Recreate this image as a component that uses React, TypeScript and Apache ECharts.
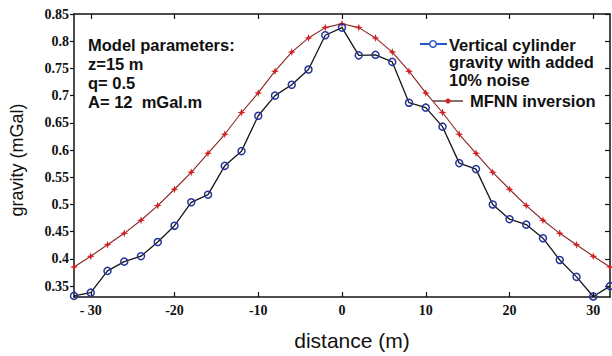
import React, { useEffect, useRef } from "react";
import * as echarts from "echarts";

const distance = [-32, -30, -28, -26, -24, -22, -20, -18, -16, -14, -12, -10, -8, -6, -4, -2, 0, 2, 4, 6, 8, 10, 12, 14, 16, 18, 20, 22, 24, 26, 28, 30, 32];
const noisyGravity = [0.332, 0.338, 0.378, 0.395, 0.405, 0.431, 0.461, 0.504, 0.518, 0.571, 0.598, 0.663, 0.700, 0.720, 0.748, 0.811, 0.825, 0.774, 0.775, 0.762, 0.687, 0.678, 0.643, 0.576, 0.565, 0.500, 0.473, 0.463, 0.438, 0.398, 0.367, 0.331, 0.350];
const mfnnInversion = [0.385, 0.405, 0.426, 0.447, 0.471, 0.498, 0.528, 0.559, 0.594, 0.629, 0.669, 0.705, 0.745, 0.780, 0.806, 0.825, 0.832, 0.825, 0.806, 0.780, 0.745, 0.705, 0.669, 0.629, 0.594, 0.559, 0.528, 0.498, 0.471, 0.447, 0.426, 0.405, 0.385];
const xTicks = [-30, -20, -10, 0, 10, 20, 30];
const yTicks = [0.35, 0.4, 0.45, 0.5, 0.55, 0.6, 0.65, 0.7, 0.75, 0.8, 0.85];
const paramLines = ["Model parameters:", "z=15 m", "q= 0.5", "A= 12  mGal.m"];
const legendLines = ["Vertical cylinder", "gravity with added", "10% noise"];
const legendName2 = "MFNN inversion";

const STAR = "path://M0,-10 L2.5,-2.5 L10,0 L2.5,2.5 L0,10 L-2.5,2.5 L-10,0 L-2.5,-2.5 Z";

export default function App() {
  const ref = useRef<HTMLDivElement>(null);
  useEffect(() => {
    if (!ref.current) return;
    const chart = echarts.init(ref.current, null, { renderer: "svg" });
    const serif = "'Liberation Serif', 'Times New Roman', serif";
    const sans = "'Liberation Sans', Arial, sans-serif";
    const tickLabel = { fontFamily: serif, fontWeight: "bold" as const, fontSize: 14, color: "#111" };
    const graphics: any[] = [];
    paramLines.forEach((t, i) => {
      graphics.push({
        type: "text", left: 88, top: 36 + i * 19,
        style: { text: t, font: `bold 16.5px ${sans}`, fill: "#111" },
      });
    });
    legendLines.forEach((t, i) => {
      graphics.push({
        type: "text", left: 449, top: 36 + i * 17.5,
        style: { text: t, font: `bold 16.5px ${sans}`, fill: "#111" },
      });
    });
    graphics.push({
      type: "text", left: 470, top: 92,
      style: { text: legendName2, font: `bold 16.5px ${sans}`, fill: "#111" },
    });
    graphics.push({ type: "line", shape: { x1: 420, y1: 44, x2: 447, y2: 44 }, style: { stroke: "#2a55c8", lineWidth: 2 } });
    graphics.push({ type: "circle", shape: { cx: 433, cy: 44, r: 3.3 }, style: { stroke: "#2a55c8", lineWidth: 1.5, fill: "#fff" } });
    graphics.push({ type: "line", shape: { x1: 433, y1: 101, x2: 463, y2: 101 }, style: { stroke: "#3a1010", lineWidth: 1.2 } });
    graphics.push({ type: "circle", shape: { cx: 448, cy: 101, r: 2.5 }, style: { fill: "#d42020" } });

    chart.setOption({
      animation: false,
      backgroundColor: "#fff",
      grid: { left: 67, right: 2, top: 14, bottom: 43, show: false },
      xAxis: [
        {
          type: "value", min: -32, max: 32, position: "bottom",
          name: "distance (m)", nameLocation: "middle", nameGap: 33,
          nameTextStyle: { fontFamily: sans, fontSize: 21, color: "#111", padding: [0, 0, 0, 20] },
          axisLine: { show: true, onZero: false, lineStyle: { color: "#111", width: 1.5 } },
          axisTick: { show: true, inside: true, length: 5, customValues: xTicks, lineStyle: { color: "#111", width: 1.2 } },
          axisLabel: { ...tickLabel, margin: 6, customValues: xTicks, formatter: (v: number) => (v === -30 ? "- 30" : String(v)) },
          splitLine: { show: false },
        },
        {
          type: "value", min: -32, max: 32, position: "top",
          axisLine: { show: true, onZero: false, lineStyle: { color: "#111", width: 1.5 } },
          axisTick: { show: true, inside: true, length: 5, customValues: xTicks, lineStyle: { color: "#111", width: 1.2 } },
          axisLabel: { show: false },
          splitLine: { show: false },
        },
      ],
      yAxis: [
        {
          type: "value", min: 0.33, max: 0.85, position: "left",
          name: "gravity (mGal)", nameLocation: "middle", nameGap: 48,
          nameTextStyle: { fontFamily: sans, fontSize: 18, color: "#111", padding: [0, 9, 0, 0] },
          axisLine: { show: true, onZero: false, lineStyle: { color: "#111", width: 1.5 } },
          axisTick: { show: true, inside: false, length: 4, customValues: yTicks, lineStyle: { color: "#111", width: 1.2 } },
          axisLabel: { ...tickLabel, margin: 5, customValues: yTicks, formatter: (v: number) => String(Math.round(v * 100) / 100) },
          splitLine: { show: false },
        },
        {
          type: "value", min: 0.33, max: 0.85, position: "right",
          axisLine: { show: true, onZero: false, lineStyle: { color: "#111", width: 1.5 } },
          axisTick: { show: true, inside: true, length: 5, customValues: yTicks, lineStyle: { color: "#111", width: 1.2 } },
          axisLabel: { show: false },
          splitLine: { show: false },
        },
      ],
      series: [
        {
          name: "MFNN inversion",
          type: "line",
          data: distance.map((d, i) => [d, mfnnInversion[i]]),
          clip: false,
          symbol: STAR, symbolSize: 8,
          itemStyle: { color: "#d42020" },
          lineStyle: { color: "#8a2424", width: 1.1 },
        },
        {
          name: "Vertical cylinder gravity with added 10% noise",
          type: "line",
          data: distance.map((d, i) => [d, noisyGravity[i]]),
          clip: false,
          symbol: "circle", symbolSize: 7,
          showAllSymbol: true,
          itemStyle: { color: "rgba(255,255,255,0)", borderColor: "#24349a", borderWidth: 1.5 },
          lineStyle: { color: "#151515", width: 1.3 },
          z: 3,
        },
      ],
      graphic: graphics,
    });
    return () => chart.dispose();
  }, []);
  return <div ref={ref} style={{ position: "fixed", left: 0, top: 0, width: 612, height: 356 }} />;
}
